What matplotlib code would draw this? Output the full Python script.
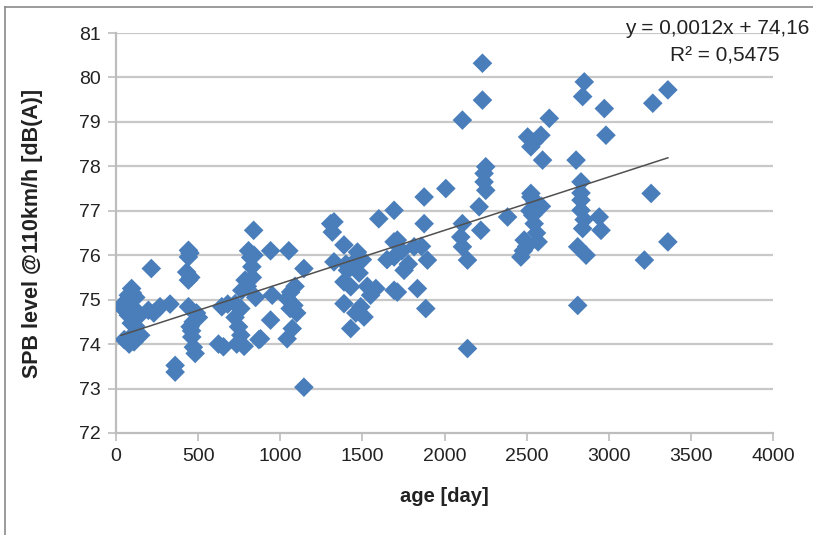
import numpy as np
import matplotlib.pyplot as plt
from matplotlib.lines import Line2D

# age [day] and SPB level [dB(A)]
age = [
    30, 35, 50, 60, 70, 75, 75, 80, 93, 95, 100, 100, 110, 115, 120, 130, 150, 110, 120,
    215, 197, 230, 268, 329, 360, 360, 441, 441, 430, 441, 441, 502, 451, 461, 482, 471,
    450, 455, 470, 490, 460,
    624, 654, 735, 725, 746, 644, 807, 827, 786, 766, 725, 838, 820, 850, 780, 760, 800,
    830, 870, 840, 760, 680,
    941, 1052, 1144, 951, 1063, 1083, 1042, 941, 1073, 1042, 880, 1144, 1090, 1060, 1100,
    1307, 1317, 1388, 1470, 1327, 1409, 1388, 1429, 1388, 1490, 1510, 1429, 1582, 1327,
    1450, 1480, 1500, 1530, 1460, 1400, 1550,
    1600, 1693, 1693, 1693, 1876, 2008, 1876, 1713, 1693, 1754, 1815, 1896, 1713, 1835,
    1886, 1650, 1740, 1780, 1860,
    2231, 2231, 2109, 2241, 2241, 2251, 2211, 2109, 2221, 2099, 2109, 2140, 2140, 2251,
    2384, 2526, 2546, 2546, 2485, 2465, 2506, 2587, 2526, 2546, 2638, 2597, 2526, 2537,
    2560, 2570, 2500, 2480, 2590, 2550, 2520,
    2851, 2841, 2973, 2983, 2801, 2831, 2831, 2831, 2942, 2841, 2953, 2811, 2862, 2811,
    2831, 2850,
    3268, 3360, 3258, 3217, 3360,
]
spb = [
    74.85, 74.84, 74.10, 74.90, 75.00, 75.10, 74.65, 74.00, 74.47, 75.25, 74.20, 75.15, 74.80,
    74.24, 74.40, 74.60, 74.20, 74.05, 75.05,
    75.70, 74.76, 74.70, 74.84, 74.90, 73.52, 73.37, 76.11, 75.96, 75.62, 75.44, 74.84, 74.60,
    74.39, 74.16, 73.79, 73.93, 76.05, 75.50, 74.50, 74.70, 74.30,
    74.00, 73.94, 74.00, 74.60, 74.39, 74.84, 76.10, 75.74, 75.44, 75.21, 74.91, 76.56, 75.95,
    75.05, 73.95, 74.20, 75.30, 75.50, 74.10, 76.00, 74.80, 74.90,
    76.10, 76.10, 75.70, 75.10, 75.17, 74.87, 75.02, 74.54, 74.35, 74.12, 74.12, 73.03, 75.30,
    74.80, 74.70,
    76.71, 76.52, 76.23, 76.07, 75.85, 75.66, 75.40, 75.29, 74.91, 74.84, 74.61, 74.35, 75.25,
    76.75, 75.85, 75.60, 75.90, 75.30, 74.70, 75.80, 75.10,
    76.82, 76.30, 75.21, 77.01, 77.31, 77.50, 76.71, 76.34, 75.96, 75.66, 76.19, 75.89, 75.17,
    75.25, 74.80, 75.90, 76.10, 75.80, 76.20,
    80.32, 79.49, 79.04, 77.84, 77.65, 77.46, 77.09, 76.71, 76.56, 76.41, 76.19, 75.89, 73.90,
    77.99,
    76.86, 77.31, 77.01, 76.71, 76.34, 75.96, 78.66, 78.70, 78.44, 78.55, 79.08, 78.14, 77.39,
    76.90, 76.50, 76.30, 76.20, 76.10, 77.10, 77.20, 77.00,
    79.90, 79.57, 79.30, 78.70, 78.14, 77.65, 77.24, 77.01, 76.86, 76.60, 76.56, 76.19, 76.00,
    74.87, 77.40, 76.80,
    79.42, 79.72, 77.39, 75.89, 76.30,
]

# linear trendline as printed on the chart
slope = 0.0012
intercept = 74.16
equation = "y = 0,0012x + 74,16"
r2_text = "R² = 0,5475"

x_ticks = list(range(0, 4001, 500))
y_ticks = list(range(72, 82))

plt.rcParams['font.family'] = ['Liberation Sans', 'DejaVu Sans']

fig = plt.figure(figsize=(8.13, 5.35), dpi=100)
ax = fig.add_axes([0.1427, 0.1907, 0.8081, 0.7476])

grid_col = '#c8c8c8'
for yv in y_ticks[1:]:
    ax.axhline(yv, color=grid_col, lw=1.6, zorder=0)

ax.scatter(age, spb, marker='D', s=100, color='#4a7ebb', edgecolors='none', zorder=3)

xs = np.array([min(age), max(age)])
ax.plot(xs, slope * xs + intercept, color='#505050', lw=1.1, zorder=4)

ax.set_xlim(0, 4000)
ax.set_ylim(72, 81)
ax.set_xticks(x_ticks)
ax.set_yticks(y_ticks)
ax.tick_params(axis='both', direction='out', length=6, width=1.2, color='#bdbdbd',
               labelsize=14, labelcolor='#222222', pad=5)

for side in ['top', 'right']:
    ax.spines[side].set_visible(False)
for side in ['left', 'bottom']:
    ax.spines[side].set_color('#bdbdbd')
    ax.spines[side].set_linewidth(1.6)

ax.set_xlabel('age [day]', fontsize=14.5, fontweight='bold', color='#222222', labelpad=16)
ax.set_ylabel('SPB level @110km/h [dB(A)]', fontsize=15.5, fontweight='bold', color='#222222',
              labelpad=26)

fig.text(809 / 813, 1 - 28 / 535, equation, fontsize=15, color='#222222', va='center', ha='right')
fig.text(725 / 813, 1 - 56 / 535, r2_text, fontsize=15, color='#222222', va='center', ha='center')

# outer chart frame, partly visible in the crop
fig.add_artist(Line2D([5 / 813, 5 / 813], [0, 1 - 7 / 535], transform=fig.transFigure,
                      color='#8a8a8a', lw=1.2))
fig.add_artist(Line2D([5 / 813, 1], [1 - 7 / 535, 1 - 7 / 535], transform=fig.transFigure,
                      color='#8a8a8a', lw=1.2))

fig.savefig('out.png', dpi=100)
